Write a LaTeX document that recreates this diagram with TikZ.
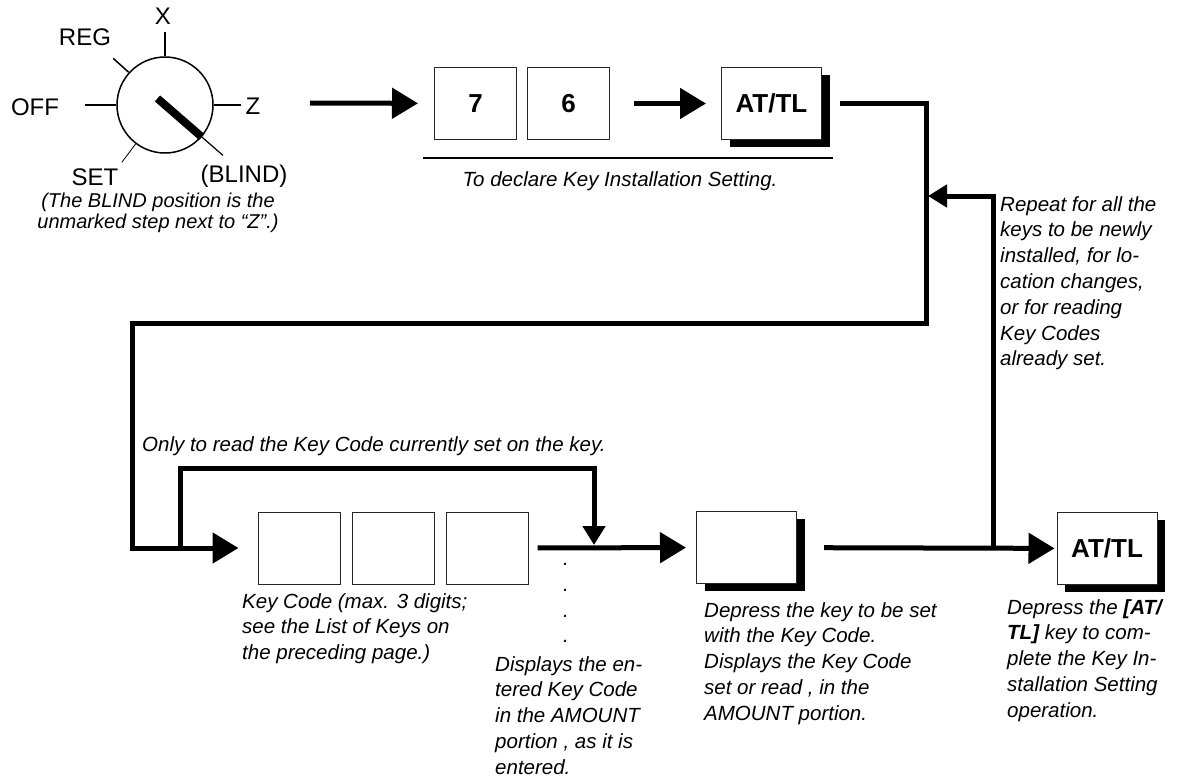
\documentclass[tikz,border=0pt]{standalone}
\usepackage{fontspec}
\setmainfont{Liberation Sans}
\usepackage{tikz}
\usetikzlibrary{arrows.meta,positioning,shadows,calc}

\begin{document}
\begin{tikzpicture}[x=1pt,y=-1pt,
node distance=10pt,
keybox/.style={draw=black!85,line width=1pt,fill=white,minimum width=82pt,minimum height=72pt,inner sep=0pt,font=\bfseries\fontsize{26}{30}\selectfont},
shkey/.style={keybox,minimum width=100pt,drop shadow={shadow xshift=8pt,shadow yshift=-7pt,fill=black,opacity=1}},
note/.style={font=\itshape\fontsize{20.5}{25.8}\selectfont,align=left,inner sep=0pt,anchor=north west},
dial/.style={font=\fontsize{24}{26}\selectfont,inner sep=0pt},
arrow/.style={-{Triangle[length=26pt,width=30pt]},line width=5pt},
arrowsmall/.style={-{Triangle[length=19pt,width=22pt]},line width=5pt},
wire/.style={line width=1.5pt}]
\useasboundingbox (0,0) rectangle (1186,777);
% mode switch
\node[circle,draw,line width=1.5pt,minimum size=96pt,inner sep=0pt] (ks) at (165,105) {};
\node[dial] (lx) at (163,16) {X};
\node[dial] (lreg) at (85,37) {REG};
\node[dial] (loff) at (35,107) {OFF};
\node[dial] (lz) at (253,106) {Z};
\node[dial] (lset) at (95,177) {SET};
\node[dial] (lblind) at (244,176) {(BLIND)};
\node[font=\itshape\fontsize{20}{21}\selectfont,align=center,inner sep=0pt] (dialnote) at (158,213) {(The BLIND position is the\\unmarked step next to ``Z''.)};
\draw[wire] (ks.90)--++(90:24pt); \draw[wire] (ks.138)--++(138:21pt);
\draw[wire] (ks.180)--++(180:31pt); \draw[wire] (ks.0)--++(0:27pt);
\draw[line width=0.8pt] (ks.233)--++(233:23pt); \draw[line width=1.2pt] (ks.319)--++(319:28pt);
\draw[line width=8pt] ($(ks.center)+(139:10pt)$)--(ks.319);
% declaration 7 6 AT/TL
\coordinate (start) at (310,103);
\node[keybox] (d7) at (475.5,103.5) {7};
\node[keybox,right=of d7] (d6) {6};
\node[shkey,right=111pt of d6] (attl1) {AT/TL};
\draw[wire] (423,158)--(833,158);
\node[font=\itshape\fontsize{20.5}{21}\selectfont,inner sep=0pt] (declnote) at (620,181) {To declare Key Installation Setting.};
\draw[arrow,shorten >=16pt] (start)--(d7);
\draw[arrow,shorten <=24pt,shorten >=15pt] (d6)--(attl1);
% key code entry
\node[keybox] (k1) at (299,548) {};
\node[keybox,right=11pt of k1] (k2) {};
\node[keybox,right=11pt of k2] (k3) {};
\node[shkey] (k4) at (746.5,547.5) {};
\node[shkey] (attl2) at (1107,548.5) {AT/TL};
\coordinate (c1) at (926,323); \coordinate (c2) at (132,323);
\coordinate (b0) at (180,548); \coordinate (bt) at (180,468); \coordinate (b1) at (594,545);
\coordinate (r0) at (993,548); \coordinate (r1) at (928,196);
\draw[arrow,shorten <=18pt,shorten >=19pt] (attl1.east)-|(c1)--(c2)|-(k1.west);
\draw[arrowsmall] (b0)--(bt)-|(b1);
\draw[arrow,shorten <=9pt,shorten >=10pt] (k3)--(k4);
\draw[arrow,shorten <=27pt,shorten >=2pt] (k4)--(attl2);
\draw[arrowsmall] (r0)|-(r1);
% notes
\node[note,anchor=west] (readnote) at (142,446) {Only to read the Key Code currently set on the key.};
\node[note] (codenote) at (242,593) {Key Code (max. 3 digits;\\see the List of Keys on\\the preceding page.)};
\node[note,align=center,anchor=north] (dots) at (566,563) {.\\.\\.\\.};
\node[note] (shownote) at (495,656) {Displays the en-\\tered Key Code\\in the AMOUNT\\portion , as it is\\entered.};
\node[note] (setnote) at (704,602) {Depress the key to be set\\with the Key Code.\\Displays the Key Code\\set or read , in the\\AMOUNT portion.};
\node[note] (endnote) at (1007,599) {Depress the \textbf{[AT/}\\\textbf{TL]} key to com-\\plete the Key In-\\stallation Setting\\operation.};
\node[note] (repeatnote) at (1000,196) {Repeat for all the\\keys to be newly\\installed, for lo-\\cation changes,\\or for reading\\Key Codes\\already set.};
\end{tikzpicture}
\end{document}
